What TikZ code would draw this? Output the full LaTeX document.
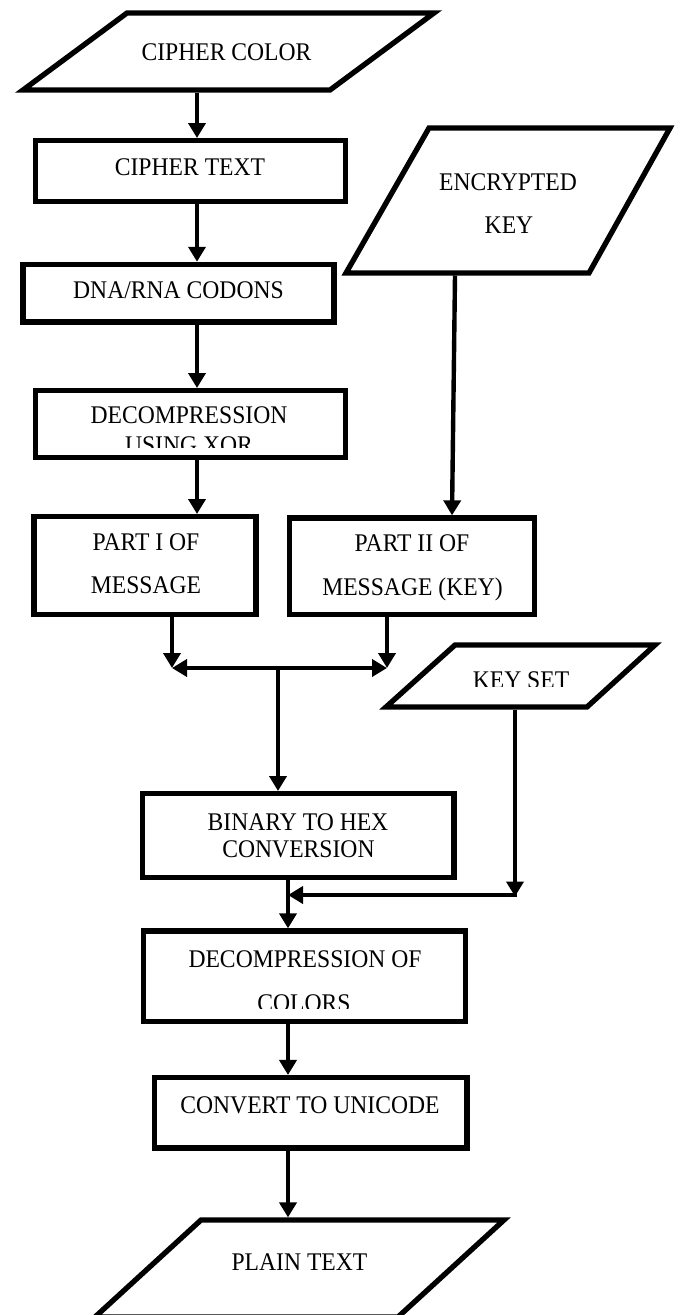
\documentclass[tikz,border=0pt]{standalone}
\usepackage{fontspec}
\setmainfont{Liberation Serif}[FakeStretch=0.93]
\usetikzlibrary{arrows.meta}
\tikzset{
  box/.style={draw=black, line width=5.4pt, rectangle, inner sep=0pt, outer sep=auto, fill=white},
  para/.style={draw=black, line width=5.3pt, line join=miter, fill=white},
  arr/.style={draw=black, line width=4.4pt, -{Triangle[width=17pt,length=15pt]}},
  conn/.style={draw=black, line width=4.4pt},
  txt/.style={anchor=base, inner sep=0pt, font=\fontsize{25.4}{28}\selectfont}
}
\begin{document}
\begin{tikzpicture}[x=1pt,y=-1pt]
\useasboundingbox (0,0) rectangle (680,1315);

% ---- parallelograms (input/output) ----
\draw[para] (127,13) -- (434,13) -- (330,90) -- (23,90) -- cycle;
\coordinate (cc-s) at (197,92.5);
\node[txt] (cc-t) at (226.5,60) {CIPHER COLOR};

\draw[para] (429,128) -- (670,128) -- (589,273) -- (346,273) -- cycle;
\coordinate (ek-s) at (455,275.5);
\node[txt] (ek-t1) at (508,190) {ENCRYPTED};
\node[txt] (ek-t2) at (509,233) {KEY};

\draw[para] (455,645) -- (655,645) -- (587,707) -- (386,707) -- cycle;
\coordinate (ks-s) at (515,709.5);
\begin{scope}
\clip (420,650) rectangle (620,686.5);
\node[txt] (ks-t) at (521,688) {KEY SET};
\end{scope}

\draw[para] (201,1220) -- (504,1220) -- (398,1317) -- (95,1317) -- cycle;
\coordinate (pt-n) at (288,1217.4);
\node[txt] (pt-t) at (299.5,1270) {PLAIN TEXT};

% ---- process boxes ----
\node[box, minimum width=310pt, minimum height=60.6pt] (ct) at (190.3,171) {};
\node[txt] (ct-t) at (190,175) {CIPHER TEXT};

\node[box, minimum width=311pt, minimum height=57.5pt] (dna) at (178.5,293.2) {};
\node[txt] (dna-t) at (178.5,298) {DNA/RNA CODONS};

\node[box, minimum width=310pt, minimum height=66.6pt] (xor) at (190.3,424) {};
\node[txt] (xor-t1) at (189,423) {DECOMPRESSION};
\begin{scope}
\clip (40,430) rectangle (340,447);
\node[txt] (xor-t2) at (189,453) {USING XOR};
\end{scope}

\node[box, minimum width=222pt, minimum height=98pt] (p1) at (145,565.7) {};
\node[txt] (p1-t1) at (146,550) {PART I OF};
\node[txt] (p1-t2) at (146,593) {MESSAGE};

\node[box, minimum width=244.6pt, minimum height=96.3pt] (p2) at (412,566.2) {};
\node[txt] (p2-t1) at (412,551) {PART II OF};
\node[txt] (p2-t2) at (412.5,595) {MESSAGE (KEY)};

\node[box, minimum width=311.3pt, minimum height=83.6pt] (bin) at (298.4,835.5) {};
\node[txt] (bin-t1) at (298,830) {BINARY TO HEX};
\node[txt] (bin-t2) at (298.5,857) {CONVERSION};

\node[box, minimum width=321.6pt, minimum height=90.3pt] (dc) at (304.5,976.2) {};
\node[txt] (dc-t1) at (305,967) {DECOMPRESSION OF};
\begin{scope}
\clip (150,985) rectangle (460,1008);
\node[txt] (dc-t2) at (304,1011) {COLORS};
\end{scope}

\node[box, minimum width=312.3pt, minimum height=70.3pt] (cu) at (310.8,1112.8) {};
\node[txt] (cu-t) at (310,1113) {CONVERT TO UNICODE};

% ---- junction points ----
\coordinate (j1) at (172,668);
\coordinate (j2) at (387,668);
\coordinate (jm) at (278,668);
\coordinate (kc) at (515,895);
\coordinate (kj) at (288,895);

% ---- connectors ----
\draw[arr] (cc-s) -- (cc-s |- ct.north);
\draw[arr] (ct.south -| cc-s) -- (dna.north -| cc-s);
\draw[arr] (dna.south -| cc-s) -- (xor.north -| cc-s);
\draw[arr] (xor.south -| cc-s) -- (p1.north -| cc-s);
\draw[arr] (ek-s) -- ([xshift=-3pt]ek-s |- p2.north);
\draw[arr] (p1.south -| j1) -- (j1);
\draw[arr] (p2.south -| j2) -- (j2);
\draw[arr] (jm) -- (j1);
\draw[arr] (jm) -- (j2);
\draw[arr] (jm) -- (jm |- bin.north);
\draw[arr] (ks-s) -- ([yshift=-1.5pt]kc);
\draw[conn] ([xshift=2pt]kc) -- ([xshift=-2pt]kc);
\draw[arr] (kc) -- (kj);
\draw[arr] (bin.south -| kj) -- (dc.north -| kj);
\draw[arr] (dc.south -| kj) -- (cu.north -| kj);
\draw[arr] (cu.south -| kj) -- (pt-n);
\end{tikzpicture}
\end{document}
